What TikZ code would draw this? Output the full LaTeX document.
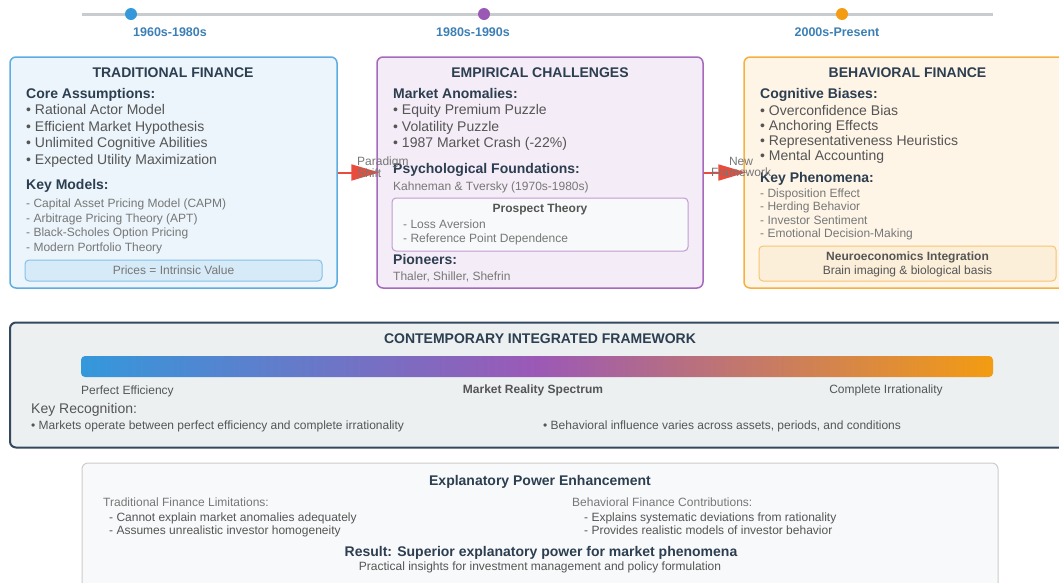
\documentclass[tikz,border=0pt]{standalone}
\usepackage{fontspec}
\setmainfont{Liberation Sans}
\usepackage{xcolor}
\usetikzlibrary{arrows.meta,positioning}

\definecolor{tlgray}{HTML}{C8CCCF}
\definecolor{datecol}{HTML}{3C7FB5}
\definecolor{tfblue}{HTML}{3498DB}
\definecolor{tffill}{HTML}{EBF5FB}
\definecolor{tfedge}{HTML}{5DADE2}
\definecolor{tfinner}{HTML}{D6EAF8}
\definecolor{tfinedge}{HTML}{85C1E9}
\definecolor{ecpurple}{HTML}{9B59B6}
\definecolor{ecfill}{HTML}{F4ECF7}
\definecolor{ecedge}{HTML}{A569BD}
\definecolor{ecinner}{HTML}{F8F9FA}
\definecolor{ecinedge}{HTML}{C39BD3}
\definecolor{bforange}{HTML}{F39C12}
\definecolor{bffill}{HTML}{FEF5E7}
\definecolor{bfedge}{HTML}{F5B041}
\definecolor{bfinner}{HTML}{FCEFD9}
\definecolor{bfinedge}{HTML}{F8C471}
\definecolor{ctfill}{HTML}{ECF0F1}
\definecolor{ctedge}{HTML}{34495E}
\definecolor{epfill}{HTML}{F8F9FA}
\definecolor{epedge}{HTML}{CCCCCC}
\definecolor{arrowred}{HTML}{E74C3C}
\definecolor{ink}{HTML}{2C3E50}
\definecolor{inkmid}{HTML}{555555}
\definecolor{inklight}{HTML}{777777}

\begin{document}
\begin{tikzpicture}[>=Stealth, x=1pt, y=-1pt,
  ttl/.style={font=\fontsize{14}{16}\selectfont\bfseries, text=ink, inner sep=0pt,
              text height=1.1em, text depth=0.22em},
  hd/.style={ttl, anchor=west},
  itm/.style={font=\fontsize{14}{16}\selectfont, text=inkmid, anchor=west, inner sep=0pt,
              text height=1.1em, text depth=0.22em},
  sub/.style={font=\fontsize{12}{14}\selectfont, text=inklight, anchor=west, inner sep=0pt,
              text height=1.1em, text depth=0.22em},
  panel/.style={draw, line width=1.5pt, rounded corners=6pt, inner sep=0pt},
  inset/.style={draw, line width=1pt, rounded corners=4pt, inner sep=0pt},
  shiftlbl/.style={font=\fontsize{12}{11}\selectfont, text=inklight, inner sep=0pt}
]

\useasboundingbox (0,0) rectangle (1059,582);
\clip (0,0) rectangle (1059,582);

% =========================================================
% TIMELINE: three eras along the top
% =========================================================
\draw[tlgray, line width=3pt] (82,14) -- (993,14);
\foreach \x/\c/\lbl/\lx [count=\i] in {131/tfblue/1960s-1980s/170,
                                       484/ecpurple/1980s-1990s/473,
                                       842/bforange/2000s-Present/837}{
  \node[circle, fill=\c, minimum size=12pt, inner sep=0pt] (dot\i) at (\x,14) {};
  \node[font=\fontsize{12.5}{14}\selectfont\bfseries, text=datecol, inner sep=0pt]
    (era\i) at (\lx,32.5) {\lbl};
}

% =========================================================
% LEFT: traditional finance
% =========================================================
\node[panel, draw=tfedge, fill=tffill, minimum width=327pt, minimum height=231pt]
  (trad) at (173.5,172.5) {};
\node[ttl] (trad-title) at (173,73) {TRADITIONAL FINANCE};
\node[hd] (trad-core) at (26,94) {Core Assumptions:};
\foreach \txt [count=\i from 0] in {Rational Actor Model, Efficient Market Hypothesis,
                                    Unlimited Cognitive Abilities, Expected Utility Maximization}
  \node[itm] (trad-core\i) at (26,{110+16.7*\i}) {\textbullet\ \txt};
\node[hd] (trad-models) at (26,185) {Key Models:};
\foreach \txt [count=\i from 0] in {{Capital Asset Pricing Model (CAPM)},
                                    {Arbitrage Pricing Theory (APT)},
                                    Black-Scholes Option Pricing, Modern Portfolio Theory}
  \node[sub] (trad-model\i) at (26,{203+14.7*\i}) {- \txt};
\node[inset, draw=tfinedge, fill=tfinner, minimum width=297pt, minimum height=21pt,
      font=\fontsize{12}{14}\selectfont, text=inklight]
  (trad-price) at (173.5,270.5) {Prices = Intrinsic Value};

% =========================================================
% MIDDLE: empirical challenges
% =========================================================
\node[panel, draw=ecedge, fill=ecfill, minimum width=326pt, minimum height=231pt]
  (emp) at (540,172.5) {};
\node[ttl] (emp-title) at (540,73) {EMPIRICAL CHALLENGES};
\node[hd] (emp-anom) at (393,94) {Market Anomalies:};
\foreach \txt [count=\i from 0] in {Equity Premium Puzzle, Volatility Puzzle,
                                    {1987 Market Crash (-22\%)}}
  \node[itm] (emp-anom\i) at (393,{110+16.7*\i}) {\textbullet\ \txt};
\node[hd] (emp-psych) at (393,169) {Psychological Foundations:};
\node[sub] (emp-kt) at (393,186) {Kahneman \& Tversky (1970s-1980s)};
\node[inset, draw=ecinedge, fill=ecinner, minimum width=296pt, minimum height=53pt]
  (emp-pt) at (540,224.5) {};
\node[font=\fontsize{12}{14}\selectfont\bfseries, text=inkmid, inner sep=0pt]
  (emp-pt-title) at (540,209.5) {Prospect Theory};
\node[sub] (emp-pt1) at (403,224) {- Loss Aversion};
\node[sub] (emp-pt2) at (403,238) {- Reference Point Dependence};
\node[hd] (emp-pion) at (393,260) {Pioneers:};
\node[sub] (emp-names) at (393,276) {Thaler, Shiller, Shefrin};

% =========================================================
% RIGHT: behavioral finance
% =========================================================
\node[panel, draw=bfedge, fill=bffill, minimum width=327pt, minimum height=231pt]
  (beh) at (907.5,172.5) {};
\node[ttl] (beh-title) at (907.5,73) {BEHAVIORAL FINANCE};
\node[hd] (beh-bias) at (760,94) {Cognitive Biases:};
\foreach \txt [count=\i from 0] in {Overconfidence Bias, Anchoring Effects,
                                    Representativeness Heuristics, Mental Accounting}
  \node[itm] (beh-bias\i) at (760,{111+15*\i}) {\textbullet\ \txt};
\node[hd] (beh-phen) at (760,178) {Key Phenomena:};
\foreach \txt [count=\i from 0] in {Disposition Effect, Herding Behavior,
                                    Investor Sentiment, Emotional Decision-Making}
  \node[sub] (beh-phen\i) at (760,{193+13.3*\i}) {- \txt};
\node[inset, draw=bfinedge, fill=bfinner, minimum width=297pt, minimum height=35pt]
  (beh-neuro) at (907.5,263.5) {};
\node[font=\fontsize{12}{14}\selectfont\bfseries, text=inkmid, inner sep=0pt]
  (beh-neuro-title) at (907.5,257.5) {Neuroeconomics Integration};
\node[font=\fontsize{12}{14}\selectfont, text=inkmid, inner sep=0pt]
  (beh-neuro-sub) at (907.5,271.5) {Brain imaging \& biological basis};

% transitions between the eras
\draw[arrowred, line width=2pt, -{Triangle[length=28pt,width=16pt]}, shorten >=-3pt]
  (trad.east) -- (emp.west);
\draw[arrowred, line width=2pt, -{Triangle[length=28pt,width=16pt]}, shorten >=-3pt]
  (emp.east) -- (beh.west);
\node[shiftlbl, anchor=west, align=left] (shift-lbl) at (357,167) {Paradigm\\Shift};
\node[shiftlbl, align=center] (frame-lbl) at (741,167) {New\\Framework};

% =========================================================
% CONTEMPORARY: spectrum bar
% =========================================================
\node[panel, draw=ctedge, fill=ctfill, line width=2pt, minimum width=1060pt, minimum height=125pt]
  (ctf) at (540,385) {};
\node[ttl] (ctf-title) at (540,339) {CONTEMPORARY INTEGRATED FRAMEWORK};
\node[rounded corners=4pt, inner sep=0pt, minimum width=912pt, minimum height=21pt,
      left color=tfblue, right color=bforange, middle color=ecpurple]
  (spectrum) at (537,366.5) {};
\node[sub, text=inkmid] (spec-lo) at (81,390) {Perfect Efficiency};
\node[font=\fontsize{12}{14}\selectfont\bfseries, text=inkmid, inner sep=0pt]
  (spec-mid) at (533,390.5) {Market Reality Spectrum};
\node[font=\fontsize{12}{14}\selectfont, text=inkmid, inner sep=0pt]
  (spec-hi) at (886,390.5) {Complete Irrationality};
\node[itm] (ctf-key) at (31,409) {Key Recognition:};
\node[sub, text=inkmid] (ctf-key1) at (31,425)
  {\textbullet\ Markets operate between perfect efficiency and complete irrationality};
\node[sub, text=inkmid] (ctf-key2) at (543,425)
  {\textbullet\ Behavioral influence varies across assets, periods, and conditions};

% =========================================================
% BOTTOM: explanatory power
% =========================================================
\node[panel, draw=epedge, fill=epfill, line width=1pt, minimum width=916pt, minimum height=140pt]
  (epe) at (540,533) {};
\node[ttl] (epe-title) at (540,481) {Explanatory Power Enhancement};
\node[sub] (epe-trad) at (103,502) {Traditional Finance Limitations:};
\node[sub, text=inkmid] (epe-trad1) at (109,517) {- Cannot explain market anomalies adequately};
\node[sub, text=inkmid] (epe-trad2) at (109,530) {- Assumes unrealistic investor homogeneity};
\node[sub] (epe-beh) at (572,502) {Behavioral Finance Contributions:};
\node[sub, text=inkmid] (epe-beh1) at (584,517) {- Explains systematic deviations from rationality};
\node[sub, text=inkmid] (epe-beh2) at (584,530) {- Provides realistic models of investor behavior};
\node[ttl] (epe-result) at (541,552) {Result: Superior explanatory power for market phenomena};
\node[font=\fontsize{12}{14}\selectfont, text=inkmid, inner sep=0pt]
  (epe-note) at (540,567.5) {Practical insights for investment management and policy formulation};

\end{tikzpicture}
\end{document}
